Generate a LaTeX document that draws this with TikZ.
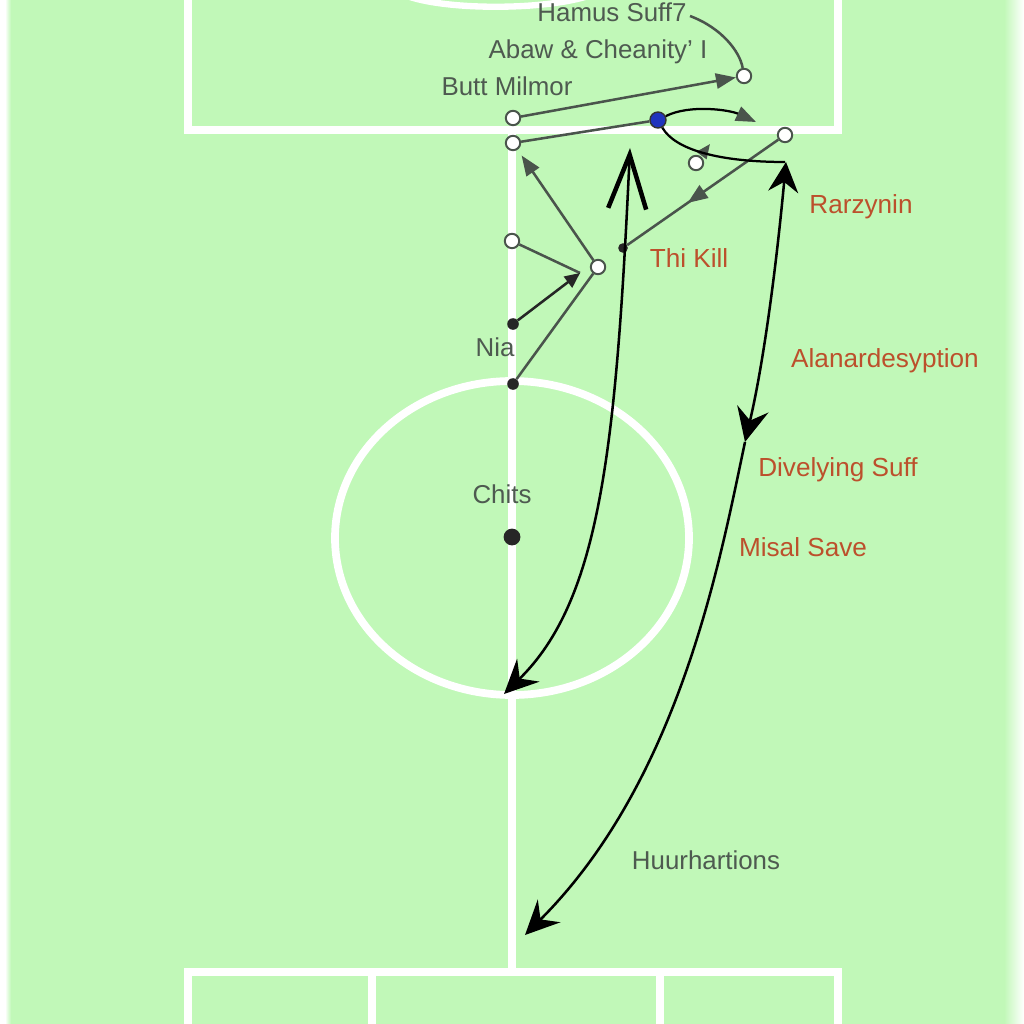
\documentclass[tikz,border=0pt]{standalone}
\usepackage{fontspec}
\setmainfont{Liberation Sans}
\usetikzlibrary{arrows.meta,decorations.markings}
\definecolor{grass}{RGB}{193,248,184}
\definecolor{lgray}{RGB}{74,84,76}
\definecolor{tgray}{RGB}{78,90,80}
\definecolor{rust}{RGB}{188,80,44}
\definecolor{pblue}{RGB}{32,52,190}
\begin{document}
\begin{tikzpicture}[x=0.025cm,y=-0.025cm,
 pitch/.style={white, line width=5.5pt},
 opn/.style={circle, draw=lgray, fill=white, line width=1.4pt, inner sep=0pt, minimum size=0.36cm},
 blk/.style={circle, fill=black!85, inner sep=0pt, minimum size=0.29cm},
 conn/.style={lgray, line width=1.8pt},
 gtip/.style={-{Triangle[length=0.5cm,width=0.38cm]}},
 bigc/.style={black, line width=1.8pt},
 btip/.tip={Stealth[length=0.85cm,width=0.8cm,inset=0.3cm]},
 glab/.style={text=tgray, font=\fontsize{18.4}{22}\selectfont, inner sep=0pt},
 olab/.style={text=rust, font=\fontsize{18.6}{22}\selectfont, inner sep=0pt}
]
% background
\fill[grass] (0,0) rectangle (1024,1024);
\useasboundingbox (0,0) rectangle (1024,1024);
\fill[white] (0,0) rectangle (5,1024);
\shade[left color=white, right color=grass] (5,0) rectangle (11,1024);
\shade[left color=grass, right color=white] (1004,0) rectangle (1024,1024);

% pitch markings
\draw[pitch] (188,-10) -- (188,130) -- (838,130) -- (838,-10);
\draw[white, line width=4.5pt] (410,-3) .. controls (450,10) and (540,10) .. (585,-3);
\draw[pitch] (512,130) -- (512,968);
\draw[pitch] (512,538) ellipse [x radius=177, y radius=157];
\draw[pitch] (188,1034) -- (188,972) -- (838,972) -- (838,1034);
\draw[pitch] (372,972) -- (372,1034);
\draw[pitch] (660,972) -- (660,1034);

% text labels
\node[glab] (hs) at (612,12) {Hamus Suff7};
\node[glab] (ac) at (598,52) {Abaw \& Cheanity' I};
\node[glab] (bmt) at (507,86) {Butt Milmor};
\node[glab] (nia) at (495,347) {Nia};
\node[glab] (chi) at (502,494) {Chits};
\node[glab] (huu) at (706,860) {Huurhartions};
\node[olab] (rar) at (861,207) {Rarzynin};
\node[olab] (tki) at (689,258) {Thi Kill};
\node[olab] (ala) at (885,361) {Alanardesyption};
\node[olab] (div) at (838,470) {Divelying Suff};
\node[olab] (mis) at (803,547) {Misal Save};

% players
\node[opn] (bm1) at (513,118) {};
\node[opn] (bm2) at (513,143) {};
\node[opn] (ab) at (744,76) {};
\node[opn] (rc) at (785,135) {};
\node[opn] (sc) at (696,163) {};
\node[opn] (o3) at (512,241) {};
\node[opn] (o4) at (598,267) {};
\node[circle, draw=black!80, fill=pblue, line width=1pt, inner sep=0pt, minimum size=0.4cm] (ball) at (658,120) {};
\node[blk] (d1) at (513,324) {};
\node[blk] (d2) at (513,384) {};
\node[blk, minimum size=0.42cm] (kick) at (512,537) {};
\node[blk, minimum size=0.24cm] (tk) at (623,248) {};

\coordinate (hsend) at (690,16);
\coordinate (conv) at (580,273);
\coordinate (ballr) at (756,122);
\coordinate (ballc) at (785,162);
\coordinate (scup) at (710,144);
\coordinate (atop) at (630,148);
\coordinate (abot) at (504,694);
\coordinate (btop) at (786,162);
\coordinate (bmid) at (745,442);
\coordinate (bbot) at (525,935);

% gray connectors
\draw[conn] (hsend) .. controls (722,28) and (740,52) .. (ab);
\draw[conn, gtip] (bm1) -- (ab);
\draw[conn] (bm2) -- (ball);
\draw[conn, gtip, shorten >=5pt] (o4) -- (bm2);
\draw[conn] (o3) -- (conv);
\draw[conn, -{Triangle[length=0.38cm,width=0.34cm]}, black!85] (d1) -- (conv);
\draw[conn] (d2) -- (o4);
\draw[conn, postaction={decorate}, decoration={markings, mark=at position 0.6 with {\arrow{Triangle[length=0.5cm,width=0.38cm]}}}] (rc) -- (tk);
\draw[conn, shorten <=2pt, -{Triangle[length=0.36cm,width=0.3cm]}] (sc) -- (scup);

% ball paths
\draw[black, line width=1.6pt, -{Triangle[length=0.5cm,width=0.38cm,color=lgray]}] (ball) .. controls (690,104) and (730,110) .. (ballr);
\draw[black, line width=1.6pt] (ball) .. controls (675,150) and (720,162) .. (ballc);

% long runs
\draw[bigc, {Straight Barb[length=1.35cm,width=0.95cm,line width=3.2pt]}-{btip}] (atop) .. controls (616,450) and (600,600) .. (abot);
\draw[bigc, {btip}-{Stealth[length=0.75cm,width=0.75cm,inset=0.25cm]}] (bmid) .. controls (762,370) and (775,280) .. (btop);
\draw[bigc, -{btip}] (bmid) .. controls (720,560) and (680,780) .. (bbot);
\end{tikzpicture}
\end{document}
